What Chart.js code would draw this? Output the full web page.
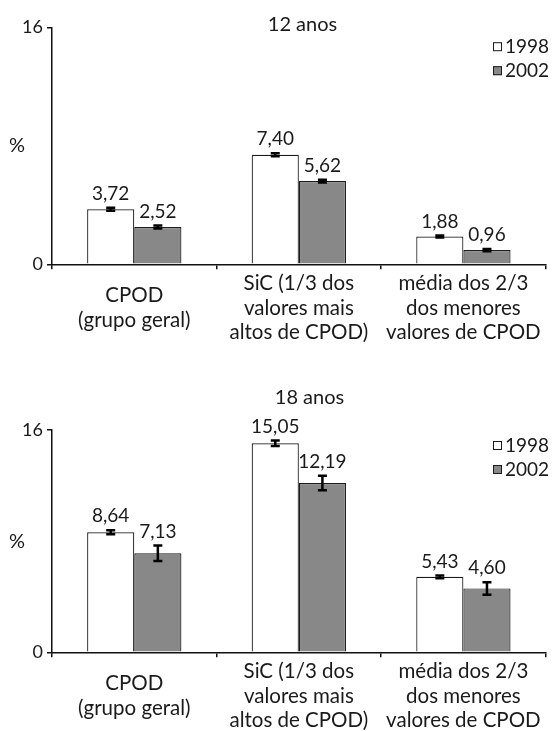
<!DOCTYPE html>
<html>
<head>
<meta charset="utf-8">
<script src="https://cdn.jsdelivr.net/npm/chart.js@4.4.1/dist/chart.umd.min.js"></script>
<style>
  body { margin: 0; background: #fff; }
  #wrap { position: relative; width: 555px; height: 731px; }
  canvas { position: absolute; left: 0; }
  #c12 { top: 0; }
  #c18 { top: 365px; }
</style>
</head>
<body>
<div id="wrap">
  <canvas id="c12" width="555" height="365"></canvas>
  <canvas id="c18" width="555" height="366"></canvas>
</div>
<script>
// data
const categories = [
  ["CPOD", "(grupo geral)"],
  ["SiC (1/3 dos", "valores mais", "altos de CPOD)"],
  ["média dos 2/3", "dos menores", "valores de CPOD"]
];
const seriesNames = ["1998", "2002"];
const yTicks = [0, 16];
const titles = ["12 anos", "18 anos"];

const cpod12_1998 = [3.72, 7.40, 1.88];
const cpod12_2002 = [2.52, 5.62, 0.96];
const err12_1998 = [0.1, 0.1, 0.07];
const err12_2002 = [0.1, 0.1, 0.07];

const cpod18_1998 = [8.64, 15.05, 5.43];
const cpod18_2002 = [7.13, 12.19, 4.60];
const err18_1998 = [0.15, 0.2, 0.1];
const err18_2002 = [0.55, 0.52, 0.45];

const fills = ["#ffffff", "#888888"];
const ink = "#1a1a1a";

Chart.defaults.font.family = "Lato";
Chart.defaults.color = ink;

// error bars, value labels, legend, title and the "%" label
const decor = {
  id: "decor",
  afterDatasetsDraw(chart, args, opts) {
    const ctx = chart.ctx;
    const y = chart.scales.y;
    ctx.save();
    chart.data.datasets.forEach(function (ds, i) {
      const meta = chart.getDatasetMeta(i);
      meta.data.forEach(function (bar, j) {
        const v = ds.data[j];
        const e = opts.errors[i][j];
        const yt = y.getPixelForValue(v + e);
        const yb = y.getPixelForValue(v - e);
        ctx.strokeStyle = "#000";
        ctx.lineWidth = 2.5;
        ctx.beginPath();
        ctx.moveTo(bar.x, yt); ctx.lineTo(bar.x, yb);
        ctx.moveTo(bar.x - 4.5, yt); ctx.lineTo(bar.x + 4.5, yt);
        ctx.moveTo(bar.x - 4.5, yb); ctx.lineTo(bar.x + 4.5, yb);
        ctx.stroke();
        ctx.fillStyle = ink;
        ctx.font = "19px Lato";
        ctx.textAlign = "center";
        ctx.textBaseline = "middle";
        ctx.fillText(v.toFixed(2).replace(".", ","), bar.x, yt - 14);
      });
    });

    // legend
    ctx.font = "19px Lato";
    ctx.textAlign = "left";
    ctx.textBaseline = "middle";
    chart.data.datasets.forEach(function (ds, i) {
      const ly = opts.legendY + i * 24;
      ctx.fillStyle = fills[i];
      ctx.fillRect(493, ly - 4.5, 9, 9);
      ctx.strokeStyle = ink;
      ctx.lineWidth = 1;
      ctx.strokeRect(493.5, ly - 4, 8, 8);
      ctx.fillStyle = ink;
      ctx.fillText(ds.label, 505, ly);
    });

    // title
    ctx.font = "20px Lato";
    ctx.textAlign = "center";
    ctx.fillText(opts.title, opts.titleX, opts.titleY);

    // % label
    const area = chart.chartArea;
    ctx.fillText("%", 17, (area.top + area.bottom) / 2);
    ctx.restore();
  }
};

function makeChart(id, d1998, d2002, e1998, e2002, o) {
  return new Chart(document.getElementById(id), {
    type: "bar",
    data: {
      labels: categories,
      datasets: [
        { label: seriesNames[0], data: d1998, backgroundColor: fills[0], borderColor: ink, borderWidth: 1.2 },
        { label: seriesNames[1], data: d2002, backgroundColor: fills[1], borderColor: ink, borderWidth: 1.2 }
      ]
    },
    options: {
      responsive: false,
      animation: false,
      devicePixelRatio: 1,
      categoryPercentage: 0.573,
      barPercentage: 1,
      layout: { padding: { top: o.top, right: 2, left: 0, bottom: 0 } },
      plugins: {
        legend: { display: false },
        tooltip: { enabled: false },
        decor: {
          errors: [e1998, e2002],
          legendY: o.legendY,
          title: o.title,
          titleX: o.titleX,
          titleY: o.titleY
        }
      },
      scales: {
        x: {
          grid: { offset: true, drawOnChartArea: false, tickLength: 5, color: "#111", lineWidth: 1.5 },
          border: { color: "#111", width: 1.5 },
          ticks: { font: { size: 20.5, lineHeight: 1.2 }, crossAlign: "center", padding: 14, maxRotation: 0, autoSkip: false },
          afterFit: function (s) { s.height = o.xHeight; }
        },
        y: {
          min: 0,
          max: 16,
          afterBuildTicks: function (s) { s.ticks = yTicks.map(function (v) { return { value: v }; }); },
          grid: { drawOnChartArea: false, tickLength: 5, color: "#111", lineWidth: 1.5 },
          border: { color: "#111", width: 1.5 },
          ticks: { font: { size: 18 }, padding: 4 },
          afterFit: function (s) { s.width = 52; }
        }
      }
    },
    plugins: [decor]
  });
}

makeChart("c12", cpod12_1998, cpod12_2002, err12_1998, err12_2002,
  { top: 27.5, xHeight: 100.7, legendY: 46.7, title: titles[0], titleX: 302.5, titleY: 24.8 });
makeChart("c18", cpod18_1998, cpod18_2002, err18_1998, err18_2002,
  { top: 65, xHeight: 78.7, legendY: 80.5, title: titles[1], titleX: 309.5, titleY: 32.7 });
</script>
</body>
</html>
